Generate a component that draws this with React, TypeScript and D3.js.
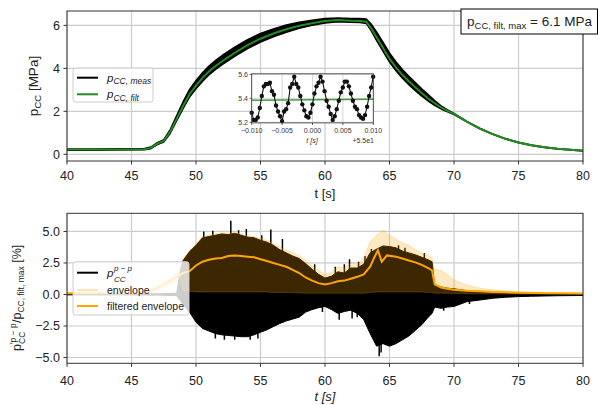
import React from 'react';
import * as d3 from 'd3';

// ---------- top panel data ----------
const tTop = [40, 42, 44, 46, 46.5, 47, 47.5, 48, 48.5, 49, 49.5, 50, 50.5, 51, 51.5, 52, 53, 54, 55, 56, 57, 58, 59, 60, 61, 62, 62.7, 63.2, 63.6, 64, 64.5, 65, 65.5, 66, 66.5, 67, 67.5, 68, 68.5, 69, 69.5, 70, 71, 72, 73, 74, 75, 76, 77, 78, 79, 80];
const pFilt = [0.22, 0.22, 0.23, 0.24, 0.30, 0.50, 0.62, 1.05, 1.65, 2.25, 2.80, 3.20, 3.55, 3.85, 4.10, 4.32, 4.72, 5.08, 5.38, 5.62, 5.82, 5.98, 6.10, 6.20, 6.25, 6.22, 6.21, 6.17, 5.85, 5.45, 4.95, 4.45, 4.05, 3.70, 3.40, 3.12, 2.85, 2.60, 2.38, 2.18, 2.02, 1.88, 1.52, 1.20, 0.94, 0.72, 0.55, 0.42, 0.33, 0.26, 0.21, 0.17];
const measHi = [0.03, 0.03, 0.03, 0.03, 0.04, 0.05, 0.06, 0.10, 0.15, 0.20, 0.22, 0.24, 0.25, 0.26, 0.26, 0.27, 0.27, 0.26, 0.25, 0.22, 0.20, 0.17, 0.14, 0.12, 0.10, 0.10, 0.11, 0.13, 0.20, 0.25, 0.27, 0.27, 0.26, 0.25, 0.24, 0.22, 0.20, 0.18, 0.12, 0.08, 0.05, 0.03, 0.015, 0.015, 0.015, 0.015, 0.015, 0.015, 0.015, 0.015, 0.015, 0.015];
const measLo = [0.03, 0.03, 0.03, 0.03, 0.04, 0.05, 0.05, 0.08, 0.10, 0.12, 0.14, 0.15, 0.16, 0.16, 0.16, 0.16, 0.16, 0.16, 0.16, 0.15, 0.14, 0.12, 0.10, 0.09, 0.08, 0.08, 0.08, 0.08, 0.12, 0.16, 0.16, 0.16, 0.16, 0.16, 0.16, 0.16, 0.14, 0.12, 0.10, 0.07, 0.04, 0.03, 0.015, 0.015, 0.015, 0.015, 0.015, 0.015, 0.015, 0.015, 0.015, 0.015];

// ---------- inset data (t - 55 s) ----------
const insetStart = -0.010;
const insetStep = 0.000333;
const insetP = [5.28, 5.22, 5.22, 5.24, 5.32, 5.42, 5.50, 5.52, 5.52, 5.53, 5.46, 5.43, 5.34, 5.29, 5.25, 5.21, 5.29, 5.31, 5.36, 5.49, 5.52, 5.58, 5.52, 5.49, 5.42, 5.35, 5.30, 5.25, 5.24, 5.28, 5.35, 5.44, 5.50, 5.53, 5.58, 5.54, 5.46, 5.38, 5.33, 5.27, 5.22, 5.25, 5.31, 5.38, 5.45, 5.49, 5.54, 5.54, 5.50, 5.44, 5.38, 5.33, 5.31, 5.26, 5.24, 5.23, 5.26, 5.33, 5.42, 5.49, 5.58];
const insetFiltT = [-0.010, 0.010];
const insetFilt = [5.385, 5.392];

// ---------- bottom panel data ----------
const tBot = [40, 44, 46, 46.5, 47, 47.5, 48, 48.5, 48.8, 49, 49.5, 50, 50.5, 51, 51.5, 52, 52.5, 53, 53.5, 54, 54.5, 55, 55.5, 56, 56.5, 57, 57.5, 58, 58.5, 59, 59.5, 60, 60.5, 61, 61.5, 62, 62.5, 63, 63.5, 64, 64.5, 65, 65.5, 66, 66.5, 67, 67.5, 68, 68.3, 68.5, 69, 69.5, 70, 71, 72, 73, 74, 75, 76, 78, 80];
const sigHi = [0.03, 0.03, 0.04, 0.05, 0.05, 0.06, 0.08, 0.10, 2.0, 2.7, 3.4, 3.9, 4.5, 4.6, 4.7, 4.8, 4.75, 4.85, 4.7, 4.55, 4.5, 4.3, 4.15, 3.9, 3.55, 3.3, 3.05, 2.85, 2.45, 2.0, 1.6, 1.3, 1.45, 1.8, 1.7, 2.1, 2.1, 2.4, 3.3, 3.6, 3.85, 3.8, 3.7, 3.45, 3.3, 3.15, 2.95, 2.75, 2.6, 0.75, 0.6, 0.5, 0.45, 0.3, 0.22, 0.15, 0.12, 0.1, 0.08, 0.05, 0.04];
const sigLo = [-0.03, -0.03, -0.04, -0.05, -0.05, -0.06, -0.08, -0.10, -0.5, -0.8, -1.4, -2.2, -2.7, -2.9, -3.1, -3.2, -3.25, -3.3, -3.35, -3.35, -3.2, -3.0, -2.8, -2.55, -2.3, -2.1, -1.95, -1.8, -1.4, -1.2, -1.05, -0.95, -1.2, -1.5, -1.35, -1.25, -1.5, -2.0, -3.1, -4.1, -3.9, -4.1, -3.9, -3.6, -3.3, -2.85, -2.4, -1.8, -1.5, -1.0, -1.1, -1.0, -0.95, -0.57, -0.44, -0.3, -0.22, -0.17, -0.14, -0.1, -0.08];
const envHi = [0.15, 0.15, 0.2, 0.45, 0.7, 1.0, 1.35, 1.75, 2.1, 2.8, 3.5, 4.0, 4.6, 4.7, 4.8, 4.9, 4.85, 4.9, 4.8, 4.65, 4.6, 4.45, 4.3, 4.05, 3.75, 3.5, 3.3, 3.1, 2.7, 2.3, 1.9, 1.6, 1.75, 2.2, 2.1, 2.5, 2.4, 2.9, 4.2, 4.7, 5.1, 4.7, 4.4, 4.1, 3.9, 3.55, 3.3, 3.1, 2.9, 2.0, 1.9, 1.6, 1.15, 0.75, 0.5, 0.38, 0.3, 0.22, 0.18, 0.12, 0.09];
const envLo = [0.05, 0.05, 0.06, 0.15, 0.3, 0.5, 0.75, 1.05, 1.3, 0.3, 0.25, 0.2, 0.2, 0.2, 0.2, 0.2, 0.2, 0.2, 0.2, 0.2, 0.2, 0.2, 0.2, 0.15, 0.15, 0.15, 0.15, 0.12, 0.1, 0.1, 0.1, 0.1, 0.1, 0.1, 0.1, 0.1, 0.1, 0.1, 0.15, 0.2, 0.2, 0.2, 0.2, 0.2, 0.2, 0.2, 0.2, 0.15, 0.15, 0.1, 0.1, 0.1, 0.08, 0.06, 0.05, 0.05, 0.05, 0.04, 0.04, 0.03, 0.03];
const tFE = [40, 44, 46, 46.5, 47, 47.5, 48, 48.5, 49, 49.5, 50, 50.5, 51, 51.5, 52, 52.5, 53, 53.5, 54, 54.5, 55, 55.5, 56, 56.5, 57, 57.5, 58, 58.5, 59, 59.5, 60, 60.5, 61, 61.5, 62, 62.5, 63, 63.5, 63.8, 64.1, 64.4, 64.8, 65.5, 66, 66.5, 67, 67.5, 68, 68.3, 68.5, 69, 69.5, 70, 71, 72, 73, 74, 75, 76, 78, 80];
const filtEnv = [0.1, 0.1, 0.12, 0.3, 0.5, 0.8, 1.1, 1.4, 1.7, 1.85, 2.3, 2.6, 2.75, 2.85, 2.9, 3.05, 3.1, 3.05, 3.0, 2.95, 2.8, 2.65, 2.5, 2.35, 2.2, 1.95, 1.7, 1.35, 1.1, 0.9, 0.8, 0.9, 1.05, 1.1, 1.25, 1.4, 1.6, 2.2, 2.9, 3.5, 2.6, 3.1, 3.0, 2.85, 2.7, 2.55, 2.35, 2.1, 1.9, 0.8, 0.55, 0.45, 0.38, 0.3, 0.25, 0.2, 0.17, 0.14, 0.12, 0.1, 0.08];
const spikeT = [50.6, 51.3, 52.7, 53.3, 53.9, 55.1, 55.8, 56.7, 59.2, 60.8, 61.5, 61.9, 62.6, 63.1, 63.6, 65.7, 66.2, 67.7, 51.5, 52.2, 53.0, 54.2, 54.8, 59.8, 61.1, 62.1, 62.5, 64.2, 64.35, 69.2, 71.2];
const spikeV = [5.0, 5.05, 5.85, 5.1, 5.2, 4.7, 5.15, 4.4, 2.4, 2.2, 2.4, 2.8, 2.6, 3.05, 3.6, 3.9, 3.7, 3.3, -3.5, -3.6, -3.6, -3.6, -3.5, -1.4, -2.0, -1.9, -1.8, -4.9, -4.6, -1.3, -0.75];

// ---------- ticks ----------
const xTicks = [40, 45, 50, 55, 60, 65, 70, 75, 80];
const yTicksTop = [0, 2, 4, 6];
const yTicksBot = [-5, -2.5, 0, 2.5, 5];
const insetXTicks = [-0.010, -0.005, 0, 0.005, 0.010];
const insetYTicks = [5.2, 5.4, 5.6];

const FONT = '"Liberation Sans", Arial, Helvetica, sans-serif';
const GRID = '#cccccc';
const SPINE = '#333333';
const GREEN = '#228b22';
const ORANGE = '#ffa500';
const ENV_ALPHA = 0.24;

const fmtMinus = (s: string) => s.replace('-', '\u2212');

export default function App() {
  const W = 598, H = 405;
  const xT = d3.scaleLinear().domain([40, 80]).range([67, 583]);
  const yT = d3.scaleLinear().domain([-0.31, 6.67]).range([161, 11]);
  const xB = d3.scaleLinear().domain([40, 80]).range([67, 583]);
  const yB = d3.scaleLinear().domain([-5.46, 6.44]).range([363.3, 213.3]);
  const xI = d3.scaleLinear().domain([-0.010, 0.010]).range([251.7, 373.3]);
  const yI = d3.scaleLinear().domain([5.195, 5.605]).range([122.9, 73.8]);

  const idxTop = tTop.map((_, i) => i);
  const bandTop = d3.area<number>()
    .x(i => xT(tTop[i]))
    .y0(i => yT(pFilt[i] - measLo[i]))
    .y1(i => yT(pFilt[i] + measHi[i]))(idxTop) || '';
  const lineFilt = d3.line<number>().x(i => xT(tTop[i])).y(i => yT(pFilt[i]))(idxTop) || '';

  const idxBot = tBot.map((_, i) => i);
  const sigArea = d3.area<number>().x(i => xB(tBot[i])).y0(i => yB(sigLo[i])).y1(i => yB(sigHi[i]))(idxBot) || '';
  const envArea = d3.area<number>().x(i => xB(tBot[i])).y0(i => yB(envLo[i])).y1(i => yB(envHi[i]))(idxBot) || '';
  const feLine = d3.line<number>().x(i => xB(tFE[i])).y(i => yB(filtEnv[i]))(tFE.map((_, i) => i)) || '';

  const insetIdx = insetP.map((_, i) => i);
  const insetT = (i: number) => insetStart + i * insetStep;
  const insetLine = d3.line<number>().x(i => xI(insetT(i))).y(i => yI(insetP[i]))(insetIdx) || '';
  const insetFiltLine = d3.line<number>().x(i => xI(insetFiltT[i])).y(i => yI(insetFilt[i]))([0, 1]) || '';

  const axesFrame = (x0: number, x1: number, y0: number, y1: number) => (
    <rect x={x0} y={y0} width={x1 - x0} height={y1 - y0} fill="none" stroke={SPINE} strokeWidth={1} />
  );

  return (
    <svg width={W} height={H} style={{ position: 'absolute', left: 0, top: 0 }} fontFamily={FONT}>
      <rect width={W} height={H} fill="#fff" />
      <defs>
        <clipPath id="clipTop"><rect x={67} y={11} width={516} height={150} /></clipPath>
        <clipPath id="clipBot"><rect x={67} y={213.3} width={516} height={150} /></clipPath>
        <clipPath id="clipIn"><rect x={251.7} y={73.8} width={121.6} height={49.1} /></clipPath>
      </defs>

      {/* ======== TOP PANEL ======== */}
      <g>
        {xTicks.map(t => <line key={'gx' + t} x1={xT(t)} x2={xT(t)} y1={11} y2={161} stroke={GRID} strokeWidth={1.2} />)}
        {yTicksTop.map(v => <line key={'gy' + v} x1={67} x2={583} y1={yT(v)} y2={yT(v)} stroke={GRID} strokeWidth={1.2} />)}
        <g clipPath="url(#clipTop)">
          <path d={bandTop} fill="#000" stroke="#000" strokeWidth={1.4} strokeLinejoin="round" />
          <path d={lineFilt} fill="none" stroke={GREEN} strokeWidth={2} />
        </g>
        {axesFrame(67, 583, 11, 161)}
        {xTicks.map(t => (
          <g key={'tx' + t}>
            <line x1={xT(t)} x2={xT(t)} y1={161} y2={164.5} stroke={SPINE} />
            <text x={xT(t)} y={179.5} textAnchor="middle" fontSize={12.5} fill="#222">{t}</text>
          </g>
        ))}
        {yTicksTop.map(v => (
          <g key={'ty' + v}>
            <line x1={63.5} x2={67} y1={yT(v)} y2={yT(v)} stroke={SPINE} />
            <text x={60} y={yT(v) + 4.5} textAnchor="end" fontSize={12.5} fill="#222">{v}</text>
          </g>
        ))}
        <text x={325} y={198} textAnchor="middle" fontSize={13} fill="#222">t [s]</text>
        <text transform="translate(38,86) rotate(-90)" textAnchor="middle" fontSize={13.5} fill="#222">
          p<tspan fontSize={9.5} dy={3}>CC</tspan><tspan dy={-3}> [MPa]</tspan>
        </text>

        {/* legend */}
        <rect x={73} y={68} width={80} height={34} rx={2.5} fill="#fff" fillOpacity={0.8} stroke="#cccccc" strokeWidth={1} />
        <line x1={77} x2={98} y1={77.7} y2={77.7} stroke="#000" strokeWidth={2} />
        <text x={107} y={81.5} fontSize={11.5} fontStyle="italic" fill="#222">p<tspan fontSize={8.5} dy={2.5}>CC, meas</tspan></text>
        <line x1={77} x2={98} y1={94.3} y2={94.3} stroke={GREEN} strokeWidth={2} />
        <text x={107} y={98} fontSize={11.5} fontStyle="italic" fill="#222">p<tspan fontSize={8.5} dy={2.5}>CC, filt</tspan></text>

        {/* annotation */}
        <rect x={461} y={9} width={136.5} height={25} fill="#fff" stroke="#000" strokeWidth={1} />
        <text x={467} y={25.5} fontSize={13.5} fill="#222">p<tspan fontSize={9.5} dy={3}>CC, filt, max</tspan><tspan dy={-3}> = 6.1 MPa</tspan></text>

        {/* inset */}
        <rect x={251.7} y={73.8} width={121.6} height={49.1} fill="#fff" />
        {insetXTicks.map(t => <line key={'igx' + t} x1={xI(t)} x2={xI(t)} y1={73.8} y2={122.9} stroke={GRID} strokeWidth={0.8} />)}
        {insetYTicks.map(v => <line key={'igy' + v} x1={251.7} x2={373.3} y1={yI(v)} y2={yI(v)} stroke={GRID} strokeWidth={0.8} />)}
        <g clipPath="url(#clipIn)">
          <path d={insetFiltLine} fill="none" stroke={GREEN} strokeWidth={1.5} opacity={0.85} />
        </g>
        <path d={insetLine} fill="none" stroke="#111" strokeWidth={1.1} />
        {insetIdx.map(i => <circle key={'ip' + i} cx={xI(insetT(i))} cy={yI(insetP[i])} r={2.2} fill="#111" />)}
        <rect x={251.7} y={73.8} width={121.6} height={49.1} fill="none" stroke={SPINE} strokeWidth={0.8} />
        {insetXTicks.map(t => (
          <g key={'itx' + t}>
            <line x1={xI(t)} x2={xI(t)} y1={122.9} y2={125} stroke={SPINE} strokeWidth={0.8} />
            <text x={xI(t)} y={133} textAnchor="middle" fontSize={7} fill="#333">{fmtMinus(d3.format('.3f')(t))}</text>
          </g>
        ))}
        {insetYTicks.map(v => (
          <g key={'ity' + v}>
            <line x1={249.6} x2={251.7} y1={yI(v)} y2={yI(v)} stroke={SPINE} strokeWidth={0.8} />
            <text x={248} y={yI(v) + 2.5} textAnchor="end" fontSize={7} fill="#333">{d3.format('.1f')(v)}</text>
          </g>
        ))}
        <text x={312} y={143} textAnchor="middle" fontSize={7} fontStyle="italic" fill="#333">t [s]</text>
        <text x={374} y={143} textAnchor="end" fontSize={7} fill="#333">+5.5e1</text>
      </g>

      {/* ======== BOTTOM PANEL ======== */}
      <g>
        {xTicks.map(t => <line key={'bgx' + t} x1={xB(t)} x2={xB(t)} y1={213.3} y2={363.3} stroke={GRID} strokeWidth={1.2} />)}
        {yTicksBot.map(v => <line key={'bgy' + v} x1={67} x2={583} y1={yB(v)} y2={yB(v)} stroke={GRID} strokeWidth={1.2} />)}
        <g clipPath="url(#clipBot)">
          <path d={sigArea} fill="#000" stroke="#000" strokeWidth={1} strokeLinejoin="round" />
          {spikeT.map((t, i) => (
            <line key={'sp' + i} x1={xB(t)} x2={xB(t)} y1={yB(0)} y2={yB(spikeV[i])} stroke="#000" strokeWidth={1.5} />
          ))}
          <path d={envArea} fill={ORANGE} fillOpacity={ENV_ALPHA} stroke={ORANGE} strokeOpacity={ENV_ALPHA} strokeWidth={1} />
          <path d={feLine} fill="none" stroke={ORANGE} strokeWidth={2} />
        </g>
        {axesFrame(67, 583, 213.3, 363.3)}
        {xTicks.map(t => (
          <g key={'btx' + t}>
            <line x1={xB(t)} x2={xB(t)} y1={363.3} y2={366.8} stroke={SPINE} />
            <text x={xB(t)} y={384.5} textAnchor="middle" fontSize={12.5} fill="#222">{t}</text>
          </g>
        ))}
        {yTicksBot.map(v => (
          <g key={'bty' + v}>
            <line x1={63.5} x2={67} y1={yB(v)} y2={yB(v)} stroke={SPINE} />
            <text x={60} y={yB(v) + 4.5} textAnchor="end" fontSize={12.5} fill="#222">{fmtMinus(d3.format('.1f')(v))}</text>
          </g>
        ))}
        <text x={325} y={401} textAnchor="middle" fontSize={13} fontStyle="italic" fill="#222">t [s]</text>
        <g transform="translate(21,294) rotate(-90)">
          <text fontSize={12.5} fill="#222">
            <tspan x={-57} y={0}>p</tspan>
            <tspan x={-50} y={-5} fontSize={8.5}>′p − p</tspan>
            <tspan x={-50} y={3.5} fontSize={8.5}>CC</tspan>
            <tspan x={-29} y={0}>/p</tspan>
            <tspan y={3} fontSize={8.5}>CC, filt, max</tspan>
            <tspan y={0}> [%]</tspan>
          </text>
        </g>

        {/* legend */}
        <rect x={73} y={261.7} width={116} height={53.3} rx={2.5} fill="#fff" fillOpacity={0.8} stroke="#cccccc" strokeWidth={1} />
        <line x1={77} x2={98} y1={272.7} y2={272.7} stroke="#000" strokeWidth={2} />
        <text x={107} y={277} fontSize={11.5} fontStyle="italic" fill="#222">p</text>
        <text x={114} y={270.5} fontSize={8} fontStyle="italic" fill="#222">p − p</text>
        <text x={114} y={281.5} fontSize={8} fontStyle="italic" fill="#222">CC</text>
        <line x1={77} x2={98} y1={290} y2={290} stroke={ORANGE} strokeOpacity={0.3} strokeWidth={2} />
        <text x={107} y={294} fontSize={10.5} fill="#222">envelope</text>
        <line x1={77} x2={98} y1={306} y2={306} stroke={ORANGE} strokeWidth={2} />
        <text x={107} y={310} fontSize={10.5} fill="#222">filtered envelope</text>
      </g>
    </svg>
  );
}
